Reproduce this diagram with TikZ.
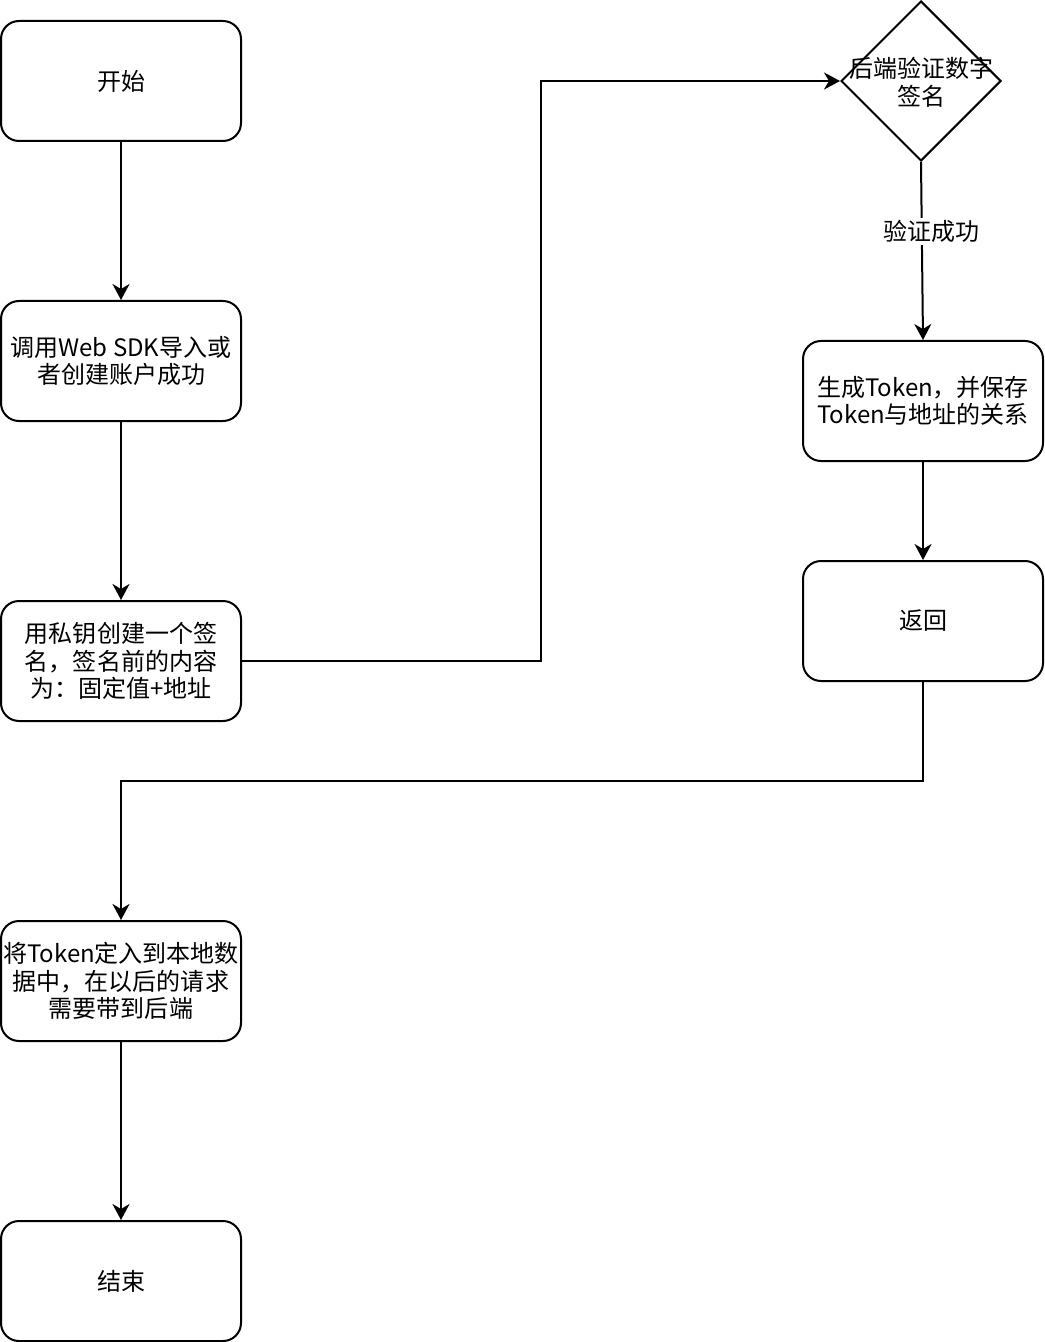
\documentclass[tikz,border=0pt]{standalone}
\usepackage{fontspec}
\setmainfont{Noto Sans CJK SC}
\usetikzlibrary{shapes.geometric,arrows.meta}

\begin{document}
\begin{tikzpicture}[x=0.5pt, y=-0.5pt, line width=1pt,
    box/.style={draw, rounded corners=9pt, minimum width=120pt, minimum height=60pt,
      align=center, font=\fontsize{12}{13.8}\selectfont, inner sep=0pt},
    arr/.style={-{Stealth[length=8pt,width=8.5pt,inset=2.5pt]}}]
  \useasboundingbox (0,0) rectangle (1044,1342);

  % left column
  \node[box] (start) at (121,81) {开始};
  \node[box] (sdk) at (121,361) {调用Web SDK导入或\\者创建账户成功};
  \node[box] (sign) at (121,661) {用私钥创建一个签\\名，签名前的内容\\为：固定值+地址};
  \node[box] (store) at (121,981) {将Token定入到本地数\\据中，在以后的请求\\需要带到后端};
  \node[box] (end) at (121,1281) {结束};

  % right column
  \node[draw, diamond, minimum width=80pt, minimum height=80pt, inner sep=0pt] (check) at (921,81) {};
  \node[align=center, font=\fontsize{12}{13.8}\selectfont] (checktxt) at (921,82) {后端验证数字\\签名};
  \node[box] (token) at (923,401) {生成Token，并保存\\Token与地址的关系};
  \node[box] (back) at (923,621) {返回};

  \coordinate (up) at (541,661);
  \coordinate (down) at (923,781);

  \draw[arr] (start) -- (sdk);
  \draw[arr] (sdk) -- (sign);
  \draw[arr] (sign.east) -- (up) |- (check.west);
  \draw[arr] (check.south) -- (token.north)
    node[pos=0.39, fill=white, inner sep=1pt, xshift=5pt, font=\fontsize{12}{13.8}\selectfont] (ok) {验证成功};
  \draw[arr] (token) -- (back);
  \draw[arr] (back.south) -- (down) -| (store.north);
  \draw[arr] (store) -- (end);
\end{tikzpicture}
\end{document}
